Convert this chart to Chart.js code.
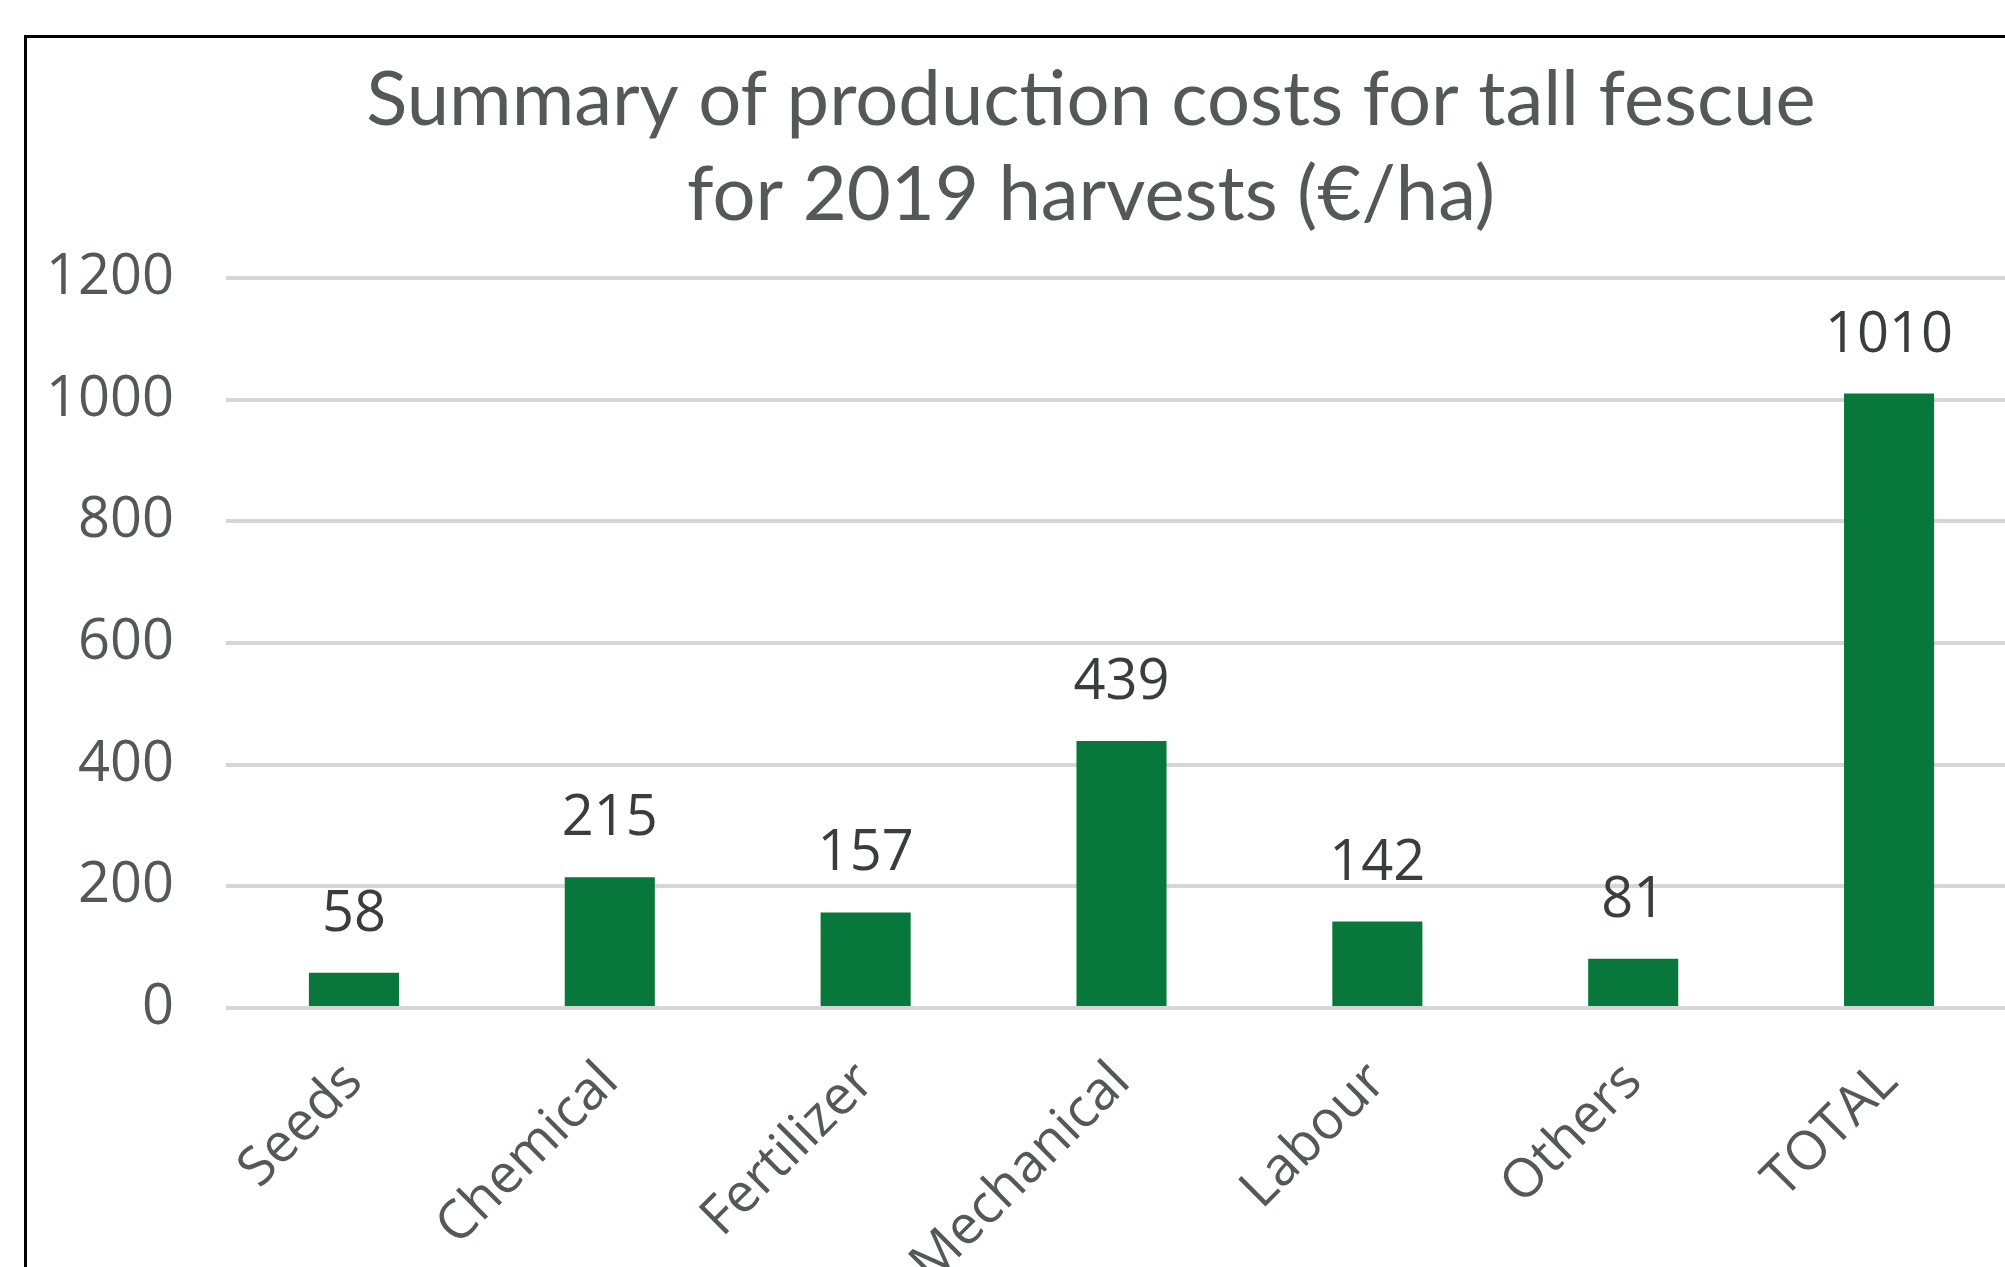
<!DOCTYPE html>
<html>
<head>
<meta charset="utf-8">
<script src="https://cdn.jsdelivr.net/npm/chart.js@4.4.1/dist/chart.umd.min.js"></script>
<style>
  html, body { margin: 0; padding: 0; background: #fff; overflow: hidden; }
  #frame {
    position: absolute;
    left: 24px;
    top: 35px;
    border: 3px solid #000;
    width: 2128px;
    height: 1300px;
  }
  canvas { display: block; }
</style>
</head>
<body>
<div id="frame">
  <canvas id="costChart" width="2128" height="1300"></canvas>
</div>
<script>
// chart data
const categories = ['Seeds', 'Chemical', 'Fertilizer', 'Mechanical', 'Labour', 'Others', 'TOTAL'];
const costs = [58, 215, 157, 439, 142, 81, 1010];
const yTicks = [0, 200, 400, 600, 800, 1000, 1200];
const titleLines = ['Summary of production costs for tall fescue', 'for 2019 harvests (€/ha)'];

const gray = '#545859';
const plotBottom = 970; // canvas px where the 0 line sits

// value labels above the bars
const valueLabels = {
    id: 'valueLabels',
    afterDatasetsDraw(chart) {
        const ctx = chart.ctx;
        const meta = chart.getDatasetMeta(0);
        ctx.save();
        ctx.font = '56px "Open Sans"';
        ctx.fillStyle = '#3a3d40';
        ctx.textAlign = 'center';
        ctx.textBaseline = 'alphabetic';
        meta.data.forEach((bar, i) => {
            ctx.fillText(String(costs[i]), bar.x, bar.y - 42);
        });
        ctx.restore();
    }
};

const ctx = document.getElementById('costChart').getContext('2d');
new Chart(ctx, {
    type: 'bar',
    data: {
        labels: categories,
        datasets: [{
            data: costs,
            backgroundColor: '#07773c',
            borderWidth: 0,
            categoryPercentage: 1,
            barPercentage: 0.352
        }]
    },
    options: {
        responsive: false,
        animation: false,
        devicePixelRatio: 1,
        layout: { padding: 0 },
        plugins: {
            legend: { display: false },
            tooltip: { enabled: false },
            title: {
                display: true,
                text: titleLines,
                color: gray,
                font: { family: 'Lato', size: 76, weight: 'normal', lineHeight: 1.263 },
                padding: { top: 14, bottom: 34 }
            }
        },
        scales: {
            x: {
                grid: { display: false },
                border: { display: false },
                ticks: {
                    color: gray,
                    font: { family: 'Open Sans', size: 54 },
                    minRotation: 45,
                    maxRotation: 45,
                    padding: 34
                },
                afterFit(scale) { scale.height = 1300 - plotBottom; }
            },
            y: {
                min: 0,
                max: 1200,
                afterBuildTicks(scale) { scale.ticks = yTicks.map(v => ({ value: v })); },
                grid: { color: '#d6d6d6', lineWidth: 4, drawTicks: false },
                border: { display: false },
                ticks: {
                    color: gray,
                    font: { family: 'Open Sans', size: 56 },
                    padding: 52,
                    callback: (v) => String(v)
                },
                afterFit(scale) { scale.width = 199; }
            },
            // empty right axis: only keeps the plot area away from the right edge
            gap: {
                position: 'right',
                grid: { display: false },
                border: { display: false },
                ticks: { display: false },
                afterFit(scale) { scale.width = 138; }
            }
        }
    },
    plugins: [valueLabels]
});
</script>
</body>
</html>
